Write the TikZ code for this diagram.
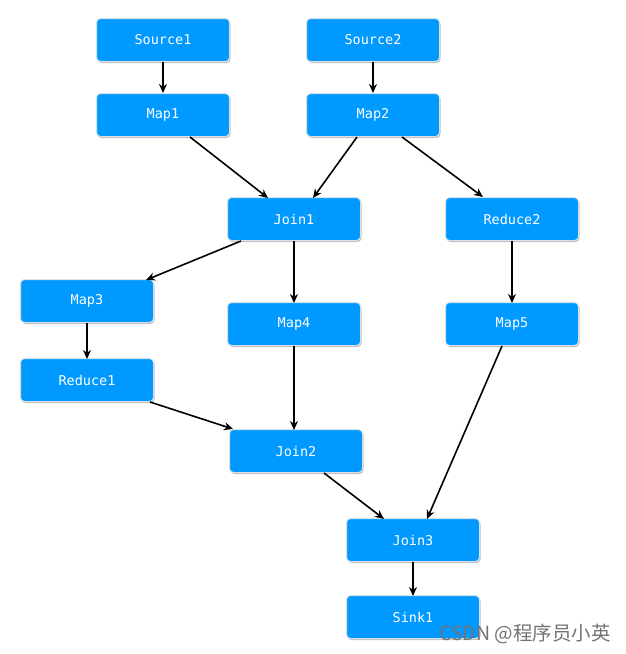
\documentclass[tikz,border=0pt]{standalone}
\usepackage{fontspec}
\setmonofont{DejaVu Sans Mono}
\newfontfamily\cjk{Noto Sans CJK SC}
\usetikzlibrary{arrows.meta,shadows}
\definecolor{boxblue}{RGB}{0,153,255}
\definecolor{boxedge}{RGB}{215,225,235}
\tikzset{
  opbox/.style={rectangle, rounded corners=4pt, fill=boxblue, draw=boxedge, line width=1pt,
    minimum width=133pt, minimum height=43pt, text=white, font=\ttfamily\fontsize{13.5}{15}\selectfont,
    drop shadow={shadow xshift=1pt, shadow yshift=-1.5pt, opacity=0.25, fill=black}},
  flow/.style={-{Stealth[length=9pt,width=8pt]}, line width=1.6pt, black},
}
\begin{document}
\begin{tikzpicture}[x=1pt,y=-1pt]
\useasboundingbox (0,0) rectangle (626,654);
\fill[white] (0,0) rectangle (626,654);
\node[opbox] (source1) at (163,40) {Source1};
\node[opbox] (source2) at (373,40) {Source2};
\node[opbox] (map1) at (163,115) {Map1};
\node[opbox] (map2) at (373,115) {Map2};
\node[opbox] (join1) at (294,219) {Join1};
\node[opbox] (reduce2) at (512,219) {Reduce2};
\node[opbox] (map3) at (87,301) {Map3};
\node[opbox] (map4) at (294,324) {Map4};
\node[opbox] (map5) at (512,324) {Map5};
\node[opbox] (reduce1) at (87,380) {Reduce1};
\node[opbox] (join2) at (296,451) {Join2};
\node[opbox] (join3) at (413,540) {Join3};
\node[opbox] (sink1) at (413,617) {Sink1};
\node[text=gray!90!black, font=\cjk\fontsize{19.5}{22}\selectfont, anchor=east, inner sep=0pt] (wm) at (611,634) {CSDN @程序员小英};

\draw[flow] (source1.south) -- (map1.north);
\draw[flow] (source2.south) -- (map2.north);
\draw[flow] ([xshift=27pt]map1.south) -- ([xshift=-26pt,yshift=-1pt]join1.north);
\draw[flow] ([xshift=-16pt]map2.south) -- ([xshift=19pt,yshift=-1pt]join1.north);
\draw[flow] ([xshift=29pt]map2.south) -- ([xshift=-29pt]reduce2.north);
\draw[flow] ([xshift=-53pt]join1.south) -- ([xshift=59pt,yshift=-1pt]map3.north);
\draw[flow] (join1.south) -- ([yshift=-1pt]map4.north);
\draw[flow] (reduce2.south) -- ([yshift=-1pt]map5.north);
\draw[flow] (map3.south) -- ([yshift=-1pt]reduce1.north);
\draw[flow] (map4.south) -- ([xshift=-2pt,yshift=-1pt]join2.north);
\draw[flow] ([xshift=63pt]reduce1.south) -- ([xshift=-63pt]join2.north);
\draw[flow] ([xshift=28pt]join2.south) -- ([xshift=-29pt,yshift=-1pt]join3.north);
\draw[flow] ([xshift=-10pt]map5.south) -- ([xshift=14pt,yshift=-1pt]join3.north);
\draw[flow] (join3.south) -- ([yshift=-1pt]sink1.north);
\end{tikzpicture}
\end{document}
